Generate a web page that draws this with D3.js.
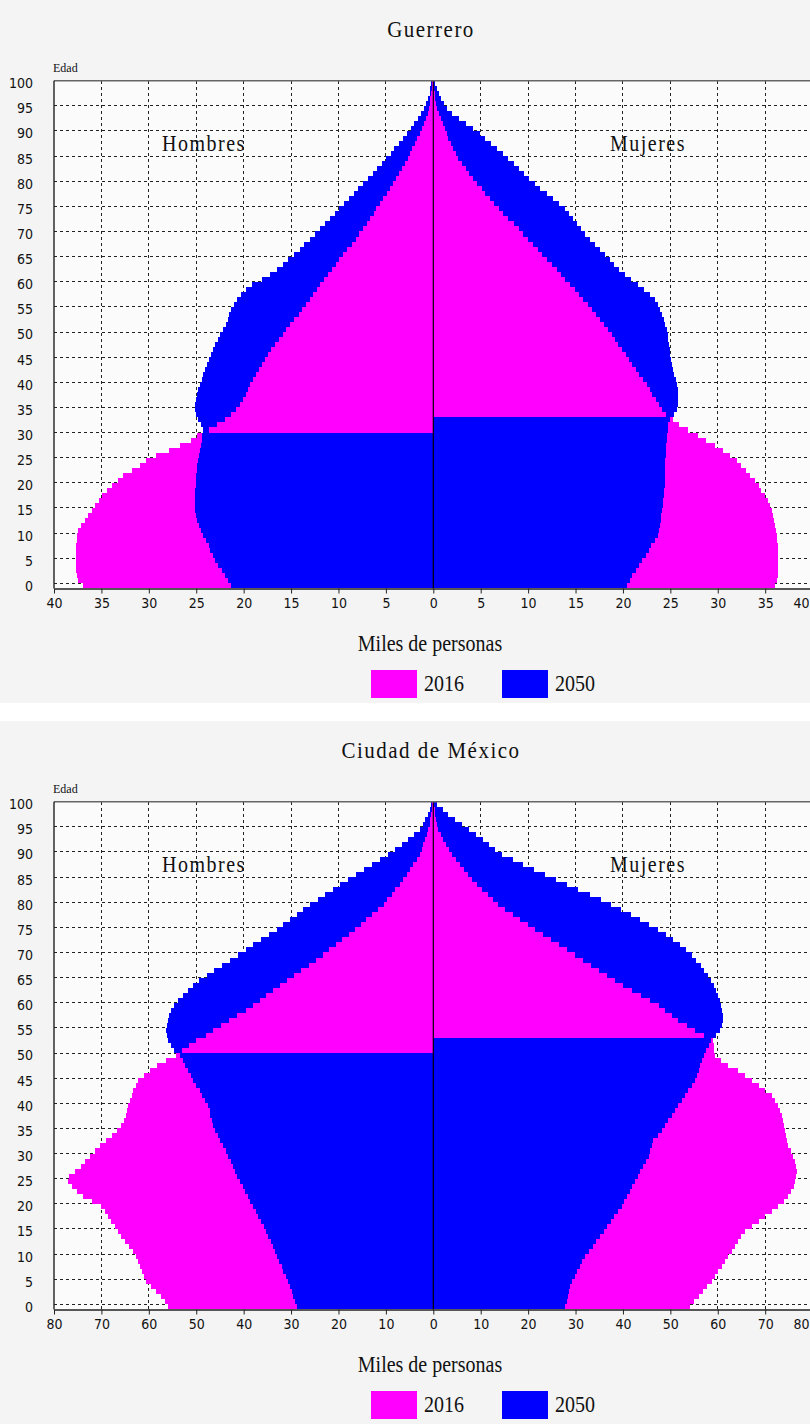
<!DOCTYPE html>
<html>
<head>
<meta charset="utf-8">
<script src="https://cdn.jsdelivr.net/npm/d3@7"></script>
<style>
  html, body { margin: 0; padding: 0; background: #ffffff; }
  svg { display: block; }
  .tick-lbl { font-family: "Liberation Sans Narrow", "DejaVu Sans Condensed", "Liberation Sans", sans-serif; font-size: 14px; fill: #111; }
  .serif { font-family: "Liberation Serif", "DejaVu Serif", serif; fill: #111; }
</style>
</head>
<body>
<div id="chart"></div>
<script>
// ---------------- DATA (thousands of people, by single year of age 0..100) ----------------
const ages = d3.range(0, 101);
const ageTicks = d3.range(0, 101, 5);
const legendYears = ["2016", "2050"];
const sexLabels = ["Hombres", "Mujeres"];
const axisTitle = "Miles de personas";
const yAxisTitle = "Edad";
const chartTitles = ["Guerrero", "Ciudad de México"];
const xMaxValues = [40, 80];
const xTickSteps = [5, 10];

// Guerrero
const guerreroHombres2016 = [
 36.9,37.5,37.6,37.7,37.7,37.7,37.7,37.7,37.7,37.6,37.6,37.5,37.1,36.7,36.4,36.0,35.7,35.3,34.9,34.4,
 33.9,33.3,32.7,31.8,30.9,30.3,29.2,27.9,26.7,25.6,24.9,23.7,22.8,22.0,21.3,20.8,20.4,20.1,19.8,19.5,
 19.3,19.0,18.7,18.4,18.1,17.8,17.4,17.1,16.7,16.3,15.9,15.5,15.1,14.7,14.2,13.8,13.4,13.0,12.7,12.3,
 12.0,11.5,11.1,10.7,10.3,9.9,9.5,9.1,8.6,8.2,7.8,7.4,7.0,6.7,6.3,6.0,5.6,5.3,4.9,4.6,
 4.2,3.9,3.6,3.3,3.0,2.7,2.5,2.2,1.9,1.7,1.4,1.2,1.0,0.8,0.6,0.5,0.4,0.3,0.2,0.1,0.1];
const guerreroHombres2050 = [
 21.3,21.6,22.0,22.3,22.7,23.0,23.2,23.5,23.7,24.0,24.3,24.5,24.7,24.9,25.0,25.1,25.1,25.1,25.1,25.1,
 25.0,25.0,25.0,24.9,24.9,24.8,24.7,24.6,24.5,24.4,24.4,24.3,24.5,24.8,25.0,25.1,25.1,25.0,24.9,24.8,
 24.6,24.4,24.3,24.1,23.9,23.7,23.4,23.2,23.0,22.7,22.5,22.2,21.9,21.7,21.5,21.3,21.0,20.7,20.3,19.8,
 19.1,18.1,17.2,16.5,15.9,15.3,14.7,14.1,13.6,13.0,12.5,11.9,11.4,10.9,10.4,9.9,9.4,8.9,8.4,7.9,
 7.4,6.9,6.4,5.9,5.4,5.0,4.5,4.1,3.6,3.2,2.8,2.4,2.0,1.6,1.3,1.0,0.8,0.6,0.4,0.3,0.2];
const guerreroMujeres2016 = [
 36.0,36.2,36.3,36.3,36.3,36.3,36.3,36.3,36.3,36.2,36.2,36.1,36.0,35.9,35.8,35.7,35.5,35.3,35.0,34.6,
 34.3,33.9,33.4,33.0,32.5,32.0,31.3,30.5,29.7,28.8,27.9,26.9,25.9,25.3,24.5,24.1,23.8,23.5,23.1,22.8,
 22.5,22.1,21.7,21.4,21.0,20.6,20.3,19.9,19.5,19.2,18.8,18.4,18.0,17.6,17.2,16.7,16.3,15.8,15.4,14.9,
 14.4,13.9,13.5,13.0,12.5,12.0,11.5,11.0,10.5,10.0,9.5,9.0,8.5,7.9,7.4,6.9,6.4,6.0,5.5,5.1,
 4.6,4.2,3.8,3.4,3.0,2.6,2.4,2.1,1.9,1.6,1.4,1.2,1.0,0.8,0.6,0.4,0.3,0.2,0.2,0.1,0.1];
const guerreroMujeres2050 = [
 20.4,20.7,21.0,21.4,21.7,22.0,22.4,22.7,23.0,23.4,23.7,23.8,23.9,24.0,24.0,24.1,24.2,24.2,24.3,24.3,
 24.4,24.4,24.4,24.4,24.4,24.4,24.5,24.5,24.5,24.6,24.6,24.7,24.8,25.0,25.4,25.7,25.8,25.8,25.8,25.8,
 25.7,25.6,25.4,25.3,25.2,25.1,25.0,25.0,24.9,24.8,24.7,24.6,24.4,24.3,24.1,23.9,23.7,23.4,22.8,22.2,
 21.6,20.9,20.2,19.6,19.1,18.6,18.1,17.6,17.0,16.5,16.0,15.6,15.2,14.7,14.3,13.9,13.3,12.6,12.0,11.3,
 10.7,10.1,9.6,9.0,8.5,7.9,7.3,6.7,6.1,5.5,4.9,4.2,3.5,2.7,2.0,1.4,1.1,0.8,0.6,0.4,0.2];

// Ciudad de México
const cdmxHombres2016 = [
 55.9,56.6,57.5,58.5,59.5,60.5,61.0,61.4,61.8,62.2,62.6,63.4,64.2,65.0,65.8,66.5,67.2,67.9,68.6,69.3,
 70.0,72.0,73.8,75.2,76.3,77.0,76.8,75.6,74.4,73.4,72.4,71.4,70.3,69.0,67.8,66.8,65.8,65.2,64.8,64.5,
 64.3,64.0,63.6,63.3,62.8,62.2,61.0,59.7,58.2,56.3,54.3,53.0,51.5,50.0,48.0,46.4,44.7,43.0,41.3,39.6,
 38.0,36.6,35.2,33.8,32.3,30.9,29.3,27.8,26.3,24.7,23.2,21.9,20.5,19.2,17.8,16.5,15.3,14.1,12.9,11.7,
 10.5,9.7,8.8,8.0,7.1,6.3,5.6,4.9,4.2,3.5,2.8,2.4,2.1,1.7,1.4,1.05,0.8,0.6,0.4,0.3,0.2];
const cdmxHombres2050 = [
 28.8,29.1,29.5,29.8,30.2,30.6,31.1,31.6,32.0,32.5,33.0,33.4,33.9,34.3,34.8,35.2,35.8,36.3,36.9,37.4,
 38.0,38.6,39.1,39.7,40.2,40.8,41.3,41.8,42.2,42.7,43.2,43.8,44.4,45.0,45.5,46.1,46.4,46.7,47.0,47.2,
 47.5,48.1,48.7,49.3,50.0,50.6,51.2,51.7,52.3,52.8,53.4,54.6,55.4,55.9,56.2,56.3,56.2,56.0,55.7,55.3,
 54.6,53.8,52.8,51.7,50.6,49.4,47.8,46.2,44.6,42.9,41.2,39.6,38.0,36.3,34.7,33.0,31.6,30.2,28.8,27.4,
 26.0,24.4,22.8,21.2,19.6,18.0,16.3,14.6,12.9,11.2,9.5,8.1,6.7,5.4,4.1,2.9,2.2,1.7,1.2,0.8,0.4];
const cdmxMujeres2016 = [
 54.1,55.0,56.0,56.9,57.8,58.7,59.4,60.1,60.8,61.5,62.2,62.9,63.6,64.3,65.0,65.8,67.2,68.6,70.0,71.4,
 72.8,73.9,74.9,75.5,76.0,76.3,76.6,76.7,76.4,76.2,75.9,75.4,74.9,74.6,74.4,74.2,74.0,73.8,73.5,73.2,
 72.8,72.1,71.4,70.0,68.6,67.2,65.8,64.3,62.2,60.6,59.5,59.3,59.1,58.9,57.0,55.2,53.5,51.7,50.3,48.9,
 47.5,45.7,43.8,42.0,40.1,38.3,36.6,34.9,33.3,31.6,29.9,28.2,26.5,24.8,23.1,21.4,19.9,18.3,16.8,15.2,
 13.7,12.6,11.5,10.3,9.2,8.1,7.3,6.4,5.6,4.7,3.9,3.3,2.7,2.1,1.6,1.05,0.8,0.6,0.4,0.3,0.2];
const cdmxMujeres2050 = [
 27.8,28.1,28.4,28.6,28.9,29.2,29.8,30.3,30.9,31.4,32.0,32.8,33.6,34.3,35.1,35.9,36.7,37.4,38.2,38.9,
 39.7,40.3,40.8,41.4,41.9,42.5,43.1,43.7,44.2,44.8,45.4,45.7,46.1,46.4,47.3,48.2,48.9,49.6,50.3,51.0,
 51.7,52.4,53.1,53.8,54.5,55.2,55.6,56.0,56.3,56.7,57.0,57.6,58.2,58.6,59.7,60.4,60.8,61.0,61.0,60.9,
 60.7,60.4,60.1,59.7,59.2,58.6,57.9,57.2,56.4,55.5,54.5,53.3,52.0,50.6,49.0,47.3,45.5,43.6,41.6,39.6,
 37.5,35.3,33.0,30.6,28.2,25.8,23.6,21.3,19.0,16.8,14.5,13.0,11.8,10.5,9.0,7.5,6.0,4.5,3.2,2.0,0.8];

const colors = {"2016": "#ff00ff", "2050": "#0000ff"};

// ---------------- CHART TABLE built from the arrays ----------------
const charts = [
  {title: chartTitles[0], dy: 0, xMax: xMaxValues[0], step: xTickSteps[0],
   m: {"2016": guerreroHombres2016, "2050": guerreroHombres2050},
   w: {"2016": guerreroMujeres2016, "2050": guerreroMujeres2050}},
  {title: chartTitles[1], dy: 721, xMax: xMaxValues[1], step: xTickSteps[1],
   m: {"2016": cdmxHombres2016, "2050": cdmxHombres2050},
   w: {"2016": cdmxMujeres2016, "2050": cdmxMujeres2050}}
];

const W = 810, H = 1424;
const svg = d3.select("#chart").append("svg").attr("width", W).attr("height", H);

const plotL = 54, plotR = 812.6, plotTop = 80.7, age0Y = 583.3, axisY = 588.5;
const bandH = (age0Y - plotTop) / 100;

charts.forEach((c, ci) => {
  const g = svg.append("g").attr("transform", `translate(0,${c.dy})`);
  g.append("rect").attr("x", 0).attr("y", 0).attr("width", W).attr("height", 703).attr("fill", "#f4f4f4");

  const x = d3.scaleLinear().domain([-c.xMax, c.xMax]).range([plotL, plotR]);
  const y = d3.scaleLinear().domain([0, 100]).range([age0Y, plotTop]);

  // title
  g.append("text").attr("class", "serif")
    .attr("transform", `translate(431,37) scale(1,1.12)`)
    .attr("text-anchor", "middle").style("font-size", "21px").style("letter-spacing", "1.5px")
    .text(c.title);
  // Edad
  g.append("text").attr("class", "serif").attr("x", plotL - 1).attr("y", 72)
    .style("font-size", "12px").text(yAxisTitle);

  // plot background
  g.append("rect").attr("x", plotL).attr("y", plotTop).attr("width", plotR - plotL)
    .attr("height", axisY - plotTop).attr("fill", "#fbfbfb");

  // horizontal dashed grid
  g.append("g").selectAll("line").data(ageTicks.filter(a => a < 100)).join("line")
    .attr("x1", plotL).attr("x2", plotR)
    .attr("y1", d => y(d)).attr("y2", d => y(d))
    .attr("stroke", "#222").attr("stroke-width", 1).attr("stroke-dasharray", "3,3")
    .attr("shape-rendering", "crispEdges");
  // vertical dashed grid
  const xt = d3.range(-c.xMax, c.xMax + 0.001, c.step);
  g.append("g").selectAll("line").data(xt.filter(v => v !== 0 && Math.abs(v) !== c.xMax)).join("line")
    .attr("x1", d => x(d)).attr("x2", d => x(d))
    .attr("y1", plotTop).attr("y2", axisY)
    .attr("stroke", "#222").attr("stroke-width", 1).attr("stroke-dasharray", "3,3")
    .attr("shape-rendering", "crispEdges");

  // bars: per age & side, wider drawn first, narrower on top
  const bars = [];
  ages.forEach((a, i) => {
    legendYears.forEach(yr => {
      bars.push({age: a, side: "m", year: yr, v: c.m[yr][i]});
      bars.push({age: a, side: "w", year: yr, v: c.w[yr][i]});
    });
  });
  bars.sort((p, q) => q.v - p.v);
  g.append("g").selectAll("rect").data(bars).join("rect")
    .attr("x", d => d.side === "m" ? x(-d.v) : x(0))
    .attr("width", d => x(d.v) - x(0))
    .attr("y", d => y(d.age))
    .attr("height", bandH)
    .attr("fill", d => colors[d.year])
    .attr("shape-rendering", "crispEdges");

  // centre line
  g.append("line").attr("x1", x(0)).attr("x2", x(0)).attr("y1", plotTop).attr("y2", axisY)
    .attr("stroke", "#000").attr("stroke-width", 1.2);

  // borders
  g.append("line").attr("x1", plotL).attr("x2", W).attr("y1", plotTop).attr("y2", plotTop)
    .attr("stroke", "#666").attr("stroke-width", 1.6);
  g.append("line").attr("x1", plotL).attr("x2", plotL).attr("y1", plotTop).attr("y2", axisY)
    .attr("stroke", "#222").attr("stroke-width", 1.4);

  // x axis
  const xAxis = d3.axisBottom(x).tickValues(xt).tickFormat(d => Math.abs(d)).tickSize(5).tickSizeOuter(0).tickPadding(5);
  const gx = g.append("g").attr("transform", `translate(0,${axisY})`).call(xAxis);
  gx.select(".domain").attr("stroke", "#222").attr("stroke-width", 1.4);
  gx.selectAll(".tick line").attr("stroke", "#222");
  gx.selectAll(".tick text").attr("class", "tick-lbl").attr("fill", "#111").attr("font-size", null).attr("font-family", null);
  // keep the right-most label inside the picture
  gx.selectAll(".tick text").filter(d => d === c.xMax)
    .attr("text-anchor", "end").attr("x", (W - 1) - x(c.xMax));

  // y labels
  const yAxis = d3.axisLeft(y).tickValues(ageTicks).tickSize(0).tickPadding(21);
  const gy = g.append("g").attr("transform", `translate(${plotL},2.5)`).call(yAxis);
  gy.select(".domain").remove();
  gy.selectAll(".tick text").attr("class", "tick-lbl").attr("fill", "#111").attr("font-size", null).attr("font-family", null);

  // sex labels
  g.append("text").attr("class", "serif").attr("transform", `translate(204,151) scale(1,1.12)`)
    .attr("text-anchor", "middle").style("font-size", "20px").style("letter-spacing", "1.5px").text(sexLabels[0]);
  g.append("text").attr("class", "serif").attr("transform", `translate(648,151) scale(1,1.12)`)
    .attr("text-anchor", "middle").style("font-size", "20px").style("letter-spacing", "1.5px").text(sexLabels[1]);

  // axis title
  g.append("text").attr("class", "serif").attr("transform", `translate(430,651) scale(1,1.15)`)
    .attr("text-anchor", "middle").style("font-size", "20px").text(axisTitle);

  // legend
  const legX = [371, 502];
  legendYears.forEach((yr, k) => {
    g.append("rect").attr("x", legX[k]).attr("y", 670).attr("width", 46).attr("height", 28).attr("fill", colors[yr]);
    g.append("text").attr("class", "serif").attr("transform", `translate(${legX[k] + 53},691) scale(1,1.15)`)
      .style("font-size", "20px").text(yr);
  });
});
</script>
</body>
</html>
